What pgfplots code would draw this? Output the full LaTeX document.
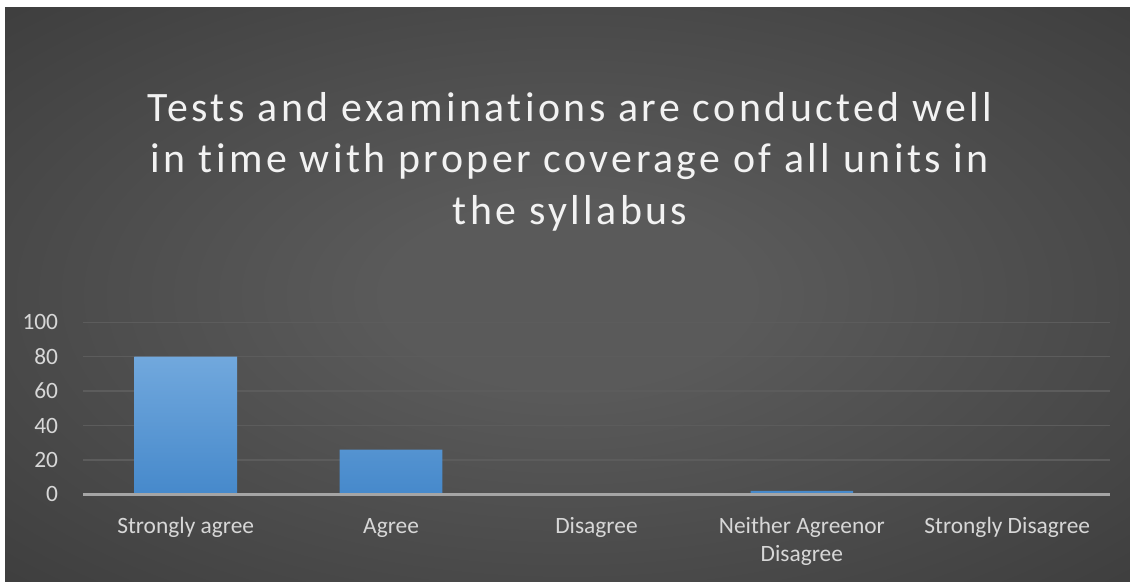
\documentclass[border=0pt]{standalone}
\usepackage{fontspec}
\setmainfont{Carlito}[Ligatures=NoCommon]
\newfontfamily\titlefont{Carlito}[LetterSpace=8.2, Ligatures=NoCommon]
\usepackage{pgfplots}
\pgfplotsset{compat=1.18}
\definecolor{bgin}{RGB}{90,90,90}
\definecolor{bgout}{RGB}{38,38,38}
\definecolor{gridc}{RGB}{92,92,92}
\definecolor{axc}{RGB}{165,165,165}
\definecolor{labc}{RGB}{215,215,215}
\definecolor{titc}{RGB}{242,242,242}
\definecolor{barTop}{RGB}{113,168,221}
\definecolor{barBot}{RGB}{70,137,203}
\pgfdeclareradialshading{bgshade}{\pgfpoint{0bp}{0bp}}{color(0bp)=(bgin); color(8bp)=(bgin); color(60bp)=(bgout)}
\begin{document}
\begin{tikzpicture}[x=1bp,y=1bp]
\fill[white] (0,0) rectangle (1130,582);
\shade[shading=bgshade] (5,0) rectangle (1130,574);
\node[anchor=base, inner sep=0pt, text=titc, font=\titlefont\fontsize{42}{51}\selectfont] at (570,460) {Tests and examinations are conducted well};
\node[anchor=base, inner sep=0pt, text=titc, font=\titlefont\fontsize{42}{51}\selectfont] at (570,409) {in time with proper coverage of all units in};
\node[anchor=base, inner sep=0pt, text=titc, font=\titlefont\fontsize{42}{51}\selectfont] at (570,357) {the syllabus};
\begin{axis}[
  scale only axis, width=1027bp, height=172bp,
  at={(83bp,87.7bp)}, anchor=south west,
  xmin=-0.5, xmax=4.5, ymin=0, ymax=100,
  xtick={0,1,2,3,4},
  xticklabels={Strongly agree, Agree, Disagree, {\begin{tabular}[t]{@{}c@{}}Neither Agreenor\\Disagree\end{tabular}}, Strongly Disagree},
  ytick={0,20,40,60,80,100},
  ymajorgrids, grid style={draw=gridc, line width=1.5bp},
  axis line style={draw=none}, major tick length=0pt,
  tick label style={font=\fontsize{23.5}{28.5}\selectfont, text=labc},
  x tick label style={anchor=base, inner sep=0pt, yshift=-39bp},
  y tick label style={anchor=east, inner sep=0pt, xshift=-24.7bp},
  /pgf/number format/assume math mode=true,
  clip=false,
]
\addplot[ybar, bar width=102.7bp, draw=none, top color=barTop, bottom color=barBot] coordinates {(0,80) (1,26) (3,2)};
\draw[axc, line width=2.5bp] (axis cs:-0.5,0) -- (axis cs:4.5,0);
\end{axis}
\end{tikzpicture}
\end{document}
